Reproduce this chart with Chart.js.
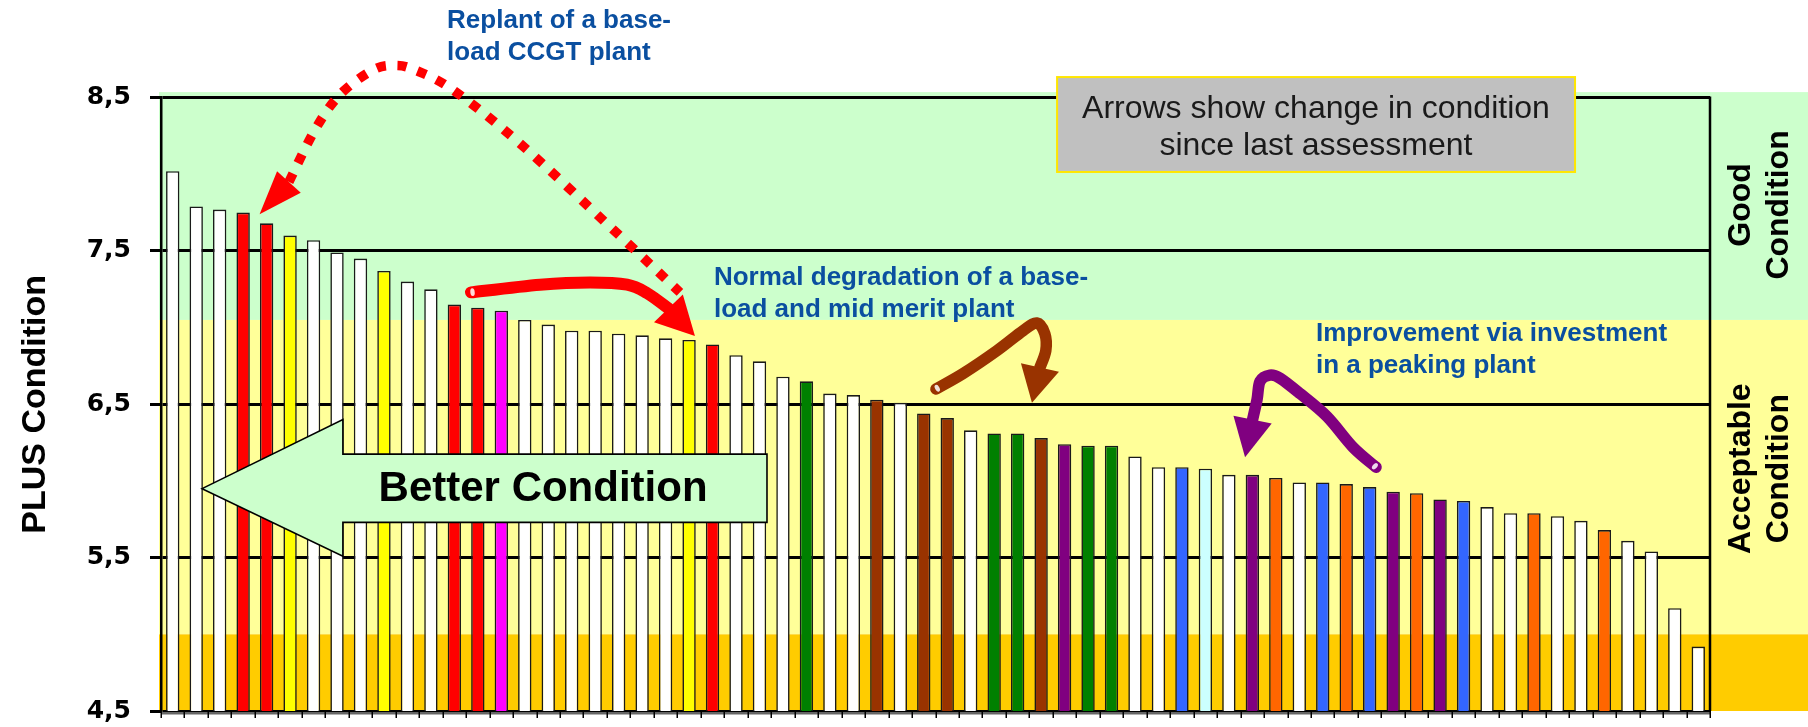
<!DOCTYPE html>
<html>
<head>
<meta charset="utf-8">
<title>PLUS Condition ranking</title>
<script src="https://cdn.jsdelivr.net/npm/chart.js@4.4.1/dist/chart.umd.min.js"></script>
<style>
  html, body { margin: 0; padding: 0; background: #ffffff; }
  #wrap { width: 1808px; height: 727px; position: relative; }
</style>
</head>
<body>
<div id="wrap"><canvas id="chart" width="1808" height="727"></canvas></div>
<script>
// PLUS condition score of each plant, ranked best to worst
const conditionScores = [
  8.02, 7.79, 7.77, 7.75, 7.68, 7.60, 7.57, 7.49, 7.45, 7.37,
  7.30, 7.25, 7.15, 7.13, 7.11, 7.05, 7.02, 6.98, 6.98, 6.96,
  6.95, 6.93, 6.92, 6.89, 6.82, 6.78, 6.68, 6.65, 6.57, 6.56,
  6.53, 6.51, 6.44, 6.41, 6.33, 6.31, 6.31, 6.28, 6.24, 6.23,
  6.23, 6.16, 6.09, 6.09, 6.08, 6.04, 6.04, 6.02, 5.99, 5.99,
  5.98, 5.96, 5.93, 5.92, 5.88, 5.87, 5.83, 5.79, 5.79, 5.77,
  5.74, 5.68, 5.61, 5.54, 5.17, 4.92
];

// Owner group of each plant (same order as the scores)
const plantGroups = [
  'W', 'W', 'W', 'R', 'R', 'Y', 'W', 'W', 'W', 'Y',
  'W', 'W', 'R', 'R', 'M', 'W', 'W', 'W', 'W', 'W',
  'W', 'W', 'Y', 'R', 'W', 'W', 'W', 'G', 'W', 'W',
  'B', 'W', 'B', 'B', 'W', 'G', 'G', 'B', 'P', 'G',
  'G', 'W', 'W', 'L', 'C', 'W', 'P', 'O', 'W', 'L',
  'O', 'L', 'P', 'O', 'P', 'L', 'W', 'W', 'O', 'W',
  'W', 'O', 'W', 'W', 'W', 'W'
];

const categories = conditionScores.map((_, i) => 'Plant ' + (i + 1));

const yTickValues = [4.5, 5.5, 6.5, 7.5, 8.5];
const yTickLabels = ['4,5', '5,5', '6,5', '7,5', '8,5'];

// Condition bands: acceptable from 5,0, good from 7,05
const acceptableFrom = 5.0;
const goodFrom = 7.05;

// ---- styling ----
const groupFill = {
  W: '#FFFFFF', R: '#FF0000', Y: '#FFFF00', M: '#FF00FF', G: '#008000',
  B: '#993300', P: '#800080', L: '#3366FF', C: '#CCFFFF', O: '#FF6600'
};
const BAND_GOOD = '#CCFFCC';
const BAND_OK = '#FFFF99';
const BAND_POOR = '#FFCC00';
const NOTE_BLUE = '#0A4FA0';
const SANS = '"Liberation Sans", Arial, sans-serif';

// ---- annotation geometry, in (rank index, score) units ----
const replantPath = [[4.95, 7.95], [6.06, 8.29], [7.13, 8.52], [8.53, 8.68], [9.47, 8.71],
  [10.32, 8.68], [11.94, 8.55], [14.80, 8.20], [18.76, 7.64], [21.61, 7.23]];
const replantHeadTip = [3.70, 7.74];
const degradePath = [[12.71, 7.23], [15.65, 7.28], [17.78, 7.295], [19.36, 7.28], [20.21, 7.225], [21.12, 7.125]];
const degradeTip = [22.25, 6.945];
const baseloadPath = [[32.52, 6.60], [33.67, 6.70], [35.12, 6.85], [36.23, 6.98], [36.82, 7.03],
  [37.16, 6.96], [37.20, 6.85], [36.95, 6.74]];
const baseloadTip = [36.61, 6.51];
const peakingPath = [[51.27, 6.09], [50.29, 6.22], [49.18, 6.42], [48.03, 6.57], [47.18, 6.67],
  [46.75, 6.69], [46.33, 6.65], [46.20, 6.53], [46.01, 6.40]];
const peakingTip = [45.69, 6.155];

const betterArrow = { tip: [1.25, 5.95], neck: 7.25, end: 25.32, headTop: 6.40, headBottom: 5.51, bodyTop: 6.175, bodyBottom: 5.73 };

function smoothPath(ctx, pts) {
  ctx.moveTo(pts[0].x, pts[0].y);
  for (let i = 0; i < pts.length - 1; i++) {
    const p0 = pts[i - 1] || pts[i], p1 = pts[i], p2 = pts[i + 1], p3 = pts[i + 2] || p2;
    ctx.bezierCurveTo(
      p1.x + (p2.x - p0.x) / 6, p1.y + (p2.y - p0.y) / 6,
      p2.x - (p3.x - p1.x) / 6, p2.y - (p3.y - p1.y) / 6,
      p2.x, p2.y);
  }
}

function arrowHead(ctx, base, tip, halfWidth, colour) {
  const dx = tip.x - base.x, dy = tip.y - base.y;
  const len = Math.hypot(dx, dy) || 1;
  const nx = -dy / len, ny = dx / len;
  ctx.beginPath();
  ctx.moveTo(tip.x, tip.y);
  ctx.lineTo(base.x + nx * halfWidth, base.y + ny * halfWidth);
  ctx.lineTo(base.x - nx * halfWidth, base.y - ny * halfWidth);
  ctx.closePath();
  ctx.fillStyle = colour;
  ctx.fill();
}

const bandsPlugin = {
  id: 'conditionBands',
  beforeDraw(chart) {
    const { ctx, chartArea, scales } = chart;
    const y = scales.y;
    const x0 = chartArea.left - 2, x1 = chart.width;
    ctx.save();
    ctx.fillStyle = '#ffffff';
    ctx.fillRect(0, 0, chart.width, chart.height);
    const yGood = y.getPixelForValue(goodFrom);
    const yOk = y.getPixelForValue(acceptableFrom);
    ctx.fillStyle = BAND_GOOD;
    ctx.fillRect(x0, chartArea.top - 5.5, x1 - x0, yGood - chartArea.top + 5.5);
    ctx.fillStyle = BAND_OK;
    ctx.fillRect(x0, yGood, x1 - x0, yOk - yGood);
    ctx.fillStyle = BAND_POOR;
    ctx.fillRect(x0, yOk, x1 - x0, chartArea.bottom - yOk);
    ctx.restore();
  }
};

const notesPlugin = {
  id: 'conditionNotes',
  afterDraw(chart) {
    const { ctx, chartArea, scales } = chart;
    const P = (p) => ({ x: scales.x.getPixelForValue(p[0]), y: scales.y.getPixelForValue(p[1]) });
    ctx.save();

    // category axis: grey base strip and tick marks between plants
    ctx.fillStyle = '#666';
    ctx.fillRect(chartArea.left, chartArea.bottom + 1, chartArea.right - chartArea.left, 2.5);
    ctx.strokeStyle = '#000';
    ctx.lineWidth = 1.5;
    ctx.beginPath();
    for (let k = 0; k <= categories.length; k++) {
      const x = Math.round(scales.x.getPixelForValue(k - 0.5)) + 0.25;
      ctx.moveTo(x, chartArea.bottom);
      ctx.lineTo(x, chartArea.bottom + 7);
    }
    ctx.stroke();

    // right-hand frame line
    ctx.strokeStyle = '#000';
    ctx.lineWidth = 2.5;
    ctx.beginPath();
    ctx.moveTo(chartArea.right, chartArea.top - 1);
    ctx.lineTo(chartArea.right, chartArea.bottom);
    ctx.stroke();

    // "Better Condition" block arrow
    const b = betterArrow;
    const pts = [
      P(b.tip), P([b.neck, b.headTop]), P([b.neck, b.bodyTop]), P([b.end, b.bodyTop]),
      P([b.end, b.bodyBottom]), P([b.neck, b.bodyBottom]), P([b.neck, b.headBottom])
    ];
    ctx.beginPath();
    pts.forEach((p, i) => i ? ctx.lineTo(p.x, p.y) : ctx.moveTo(p.x, p.y));
    ctx.closePath();
    ctx.fillStyle = BAND_GOOD;
    ctx.fill();
    ctx.strokeStyle = '#000';
    ctx.lineWidth = 1.6;
    ctx.stroke();
    const bc = P([15.78, b.tip[1]]);
    ctx.fillStyle = '#000';
    ctx.font = 'bold 42px ' + SANS;
    ctx.textAlign = 'center';
    ctx.textBaseline = 'middle';
    ctx.fillText('Better Condition', bc.x, bc.y + 1);

    // legend note box
    const bx0 = P([37.68, 8.634]), bx1 = P([59.75, 8.015]);
    ctx.fillStyle = '#C0C0C0';
    ctx.fillRect(bx0.x, bx0.y, bx1.x - bx0.x, bx1.y - bx0.y);
    ctx.strokeStyle = '#FFE600';
    ctx.lineWidth = 2;
    ctx.strokeRect(bx0.x, bx0.y, bx1.x - bx0.x, bx1.y - bx0.y);
    ctx.fillStyle = '#1a1a1a';
    ctx.font = '32px ' + SANS;
    ctx.textBaseline = 'alphabetic';
    const l1 = P([48.71, 8.37]), l2 = P([48.71, 8.126]);
    ctx.fillText('Arrows show change in condition', l1.x, l1.y);
    ctx.fillText('since last assessment', l2.x, l2.y);

    // blue captions
    ctx.fillStyle = NOTE_BLUE;
    ctx.font = 'bold 26px ' + SANS;
    ctx.textAlign = 'left';
    const caption = (lines, at, step) => {
      lines.forEach((t, i) => { const p = P([at[0], at[1] - i * step]); ctx.fillText(t, p.x, p.y); });
    };
    caption(['Replant of a base-', 'load CCGT plant'], [11.69, 8.954], 0.209);
    caption(['Normal degradation of a base-', 'load and mid merit plant'], [23.06, 7.278], 0.209);
    caption(['Improvement via investment', 'in a peaking plant'], [48.71, 6.912], 0.209);

    // dotted replant arrow
    const rp = replantPath.map(P);
    ctx.beginPath();
    smoothPath(ctx, rp);
    ctx.strokeStyle = '#FF0000';
    ctx.lineWidth = 9.5;
    ctx.lineCap = 'butt';
    ctx.setLineDash([9.5, 11.5]);
    ctx.stroke();
    ctx.setLineDash([]);
    arrowHead(ctx, rp[0], P(replantHeadTip), 16, '#FF0000');

    // solid curved arrows
    const solidArrow = (path, tip, colour, width, half) => {
      const pp = path.map(P);
      ctx.beginPath();
      smoothPath(ctx, pp);
      ctx.strokeStyle = colour;
      ctx.lineWidth = width;
      ctx.lineCap = 'round';
      ctx.lineJoin = 'round';
      ctx.stroke();
      arrowHead(ctx, pp[pp.length - 1], P(tip), half, colour);
      // hollow tail end
      const t0 = pp[0], t1 = pp[1];
      const ang = Math.atan2(t1.y - t0.y, t1.x - t0.x);
      ctx.beginPath();
      ctx.ellipse(t0.x + Math.cos(ang) * 1.5, t0.y + Math.sin(ang) * 1.5, 2.2, width * 0.32, ang, 0, Math.PI * 2);
      ctx.fillStyle = 'rgba(255,255,255,0.85)';
      ctx.fill();
    };
    solidArrow(degradePath, degradeTip, '#FF0000', 12, 20);
    solidArrow(baseloadPath, baseloadTip, '#993300', 11.5, 19.5);
    solidArrow(peakingPath, peakingTip, '#800080', 11.5, 19.5);

    // band names on the right
    ctx.fillStyle = '#000';
    ctx.font = 'bold 32px ' + SANS;
    ctx.textAlign = 'center';
    ctx.textBaseline = 'middle';
    const sideLabel = (lines, value) => {
      const cy = scales.y.getPixelForValue(value);
      const cx = chartArea.right + 50;
      ctx.save();
      ctx.translate(cx, cy);
      ctx.rotate(-Math.PI / 2);
      ctx.fillText(lines[0], 0, -19);
      ctx.fillText(lines[1], 0, 19);
      ctx.restore();
    };
    sideLabel(['Good', 'Condition'], 7.8);
    sideLabel(['Acceptable', 'Condition'], 6.08);

    ctx.restore();
  }
};

new Chart(document.getElementById('chart').getContext('2d'), {
  type: 'bar',
  data: {
    labels: categories,
    datasets: [{
      data: conditionScores,
      backgroundColor: plantGroups.map(g => groupFill[g]),
      borderColor: '#1a1a1a',
      borderWidth: 1.6,
      borderSkipped: 'start',
      barPercentage: 0.57,
      categoryPercentage: 1
    }]
  },
  options: {
    responsive: false,
    maintainAspectRatio: false,
    animation: false,
    events: [],
    layout: { autoPadding: false, padding: { left: 0, right: 98, top: 97.6, bottom: 16 } },
    plugins: { legend: { display: false }, tooltip: { enabled: false } },
    scales: {
      x: {
        display: false,
        offset: true
      },
      y: {
        min: 4.5,
        max: 8.5,
        afterBuildTicks(scale) { scale.ticks = yTickValues.map(v => ({ value: v })); },
        ticks: {
          callback: (value) => yTickLabels[yTickValues.indexOf(value)],
          font: { family: '"DejaVu Sans", sans-serif', weight: 'bold', size: 25 },
          color: '#000',
          padding: 19
        },
        grid: { color: '#000', lineWidth: 3, tickLength: 11 },
        border: { display: true, color: '#000', width: 2.5 },
        title: {
          display: true,
          text: 'PLUS Condition',
          color: '#000',
          font: { family: SANS, weight: 'bold', size: 34 },
          padding: { top: 15, bottom: 0 }
        },
        afterFit(scale) {
          scale.width = 161;
          scale.paddingTop = 0;
          scale.paddingBottom = 0;
        }
      }
    }
  },
  plugins: [bandsPlugin, notesPlugin]
});
</script>
</body>
</html>
